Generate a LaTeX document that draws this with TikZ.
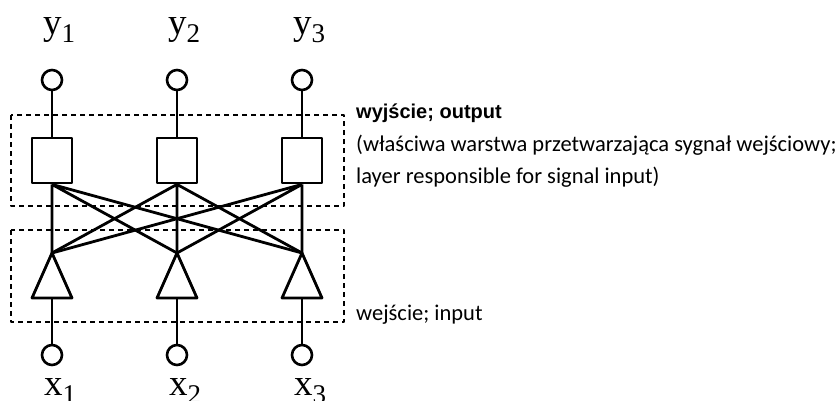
\documentclass[tikz,border=0pt]{standalone}
\usepackage{fontspec}
\setmainfont{Liberation Serif}
\newfontfamily\calibrifont{Carlito}
\newfontfamily\arialfont{Liberation Sans}

% variable with subscript, as in the scanned figure
\newcommand{\var}[2]{\fontsize{37}{37}\selectfont #1\raisebox{-8pt}{\fontsize{27}{27}\selectfont #2}}

\begin{document}
\begin{tikzpicture}[x=1pt, y=-1pt, line join=round,
    wire/.style={line width=2.8pt},
    port/.style={circle, draw, line width=2.6pt, minimum size=20pt, inner sep=0pt},
    unit/.style={rectangle, draw, line width=2.8pt, minimum width=40pt, minimum height=45pt, inner sep=0pt},
    layer/.style={draw, dashed, line width=1.7pt, dash pattern=on 5pt off 4pt},
    var/.style={anchor=base west, inner sep=0pt}]
  \useasboundingbox (0,0) rectangle (840,401);

  % layers
  \draw[layer] (11,115) rectangle (344,206);
  \draw[layer] (11,230) rectangle (344,322);

  % outputs
  \node[var] (ylbl1) at (43,35) {\var{y}{1}};
  \node[var] (ylbl2) at (168,35) {\var{y}{2}};
  \node[var] (ylbl3) at (293,35) {\var{y}{3}};
  \node[port] (yport1) at (52,80) {};
  \node[port] (yport2) at (177,80) {};
  \node[port] (yport3) at (302,80) {};

  % output layer
  \node[unit] (out1) at (52,160.5) {};
  \node[unit] (out2) at (177,160.5) {};
  \node[unit] (out3) at (302,160.5) {};

  % input layer: apex and base of each triangle
  \coordinate (in1) at (52,253);
  \coordinate (in2) at (177,253);
  \coordinate (in3) at (302,253);
  \coordinate (base1) at (52,298);
  \coordinate (base2) at (177,298);
  \coordinate (base3) at (302,298);
  \draw[wire] (in1) -- ++(-20,45) -- ++(40,0) -- cycle;
  \draw[wire] (in2) -- ++(-20,45) -- ++(40,0) -- cycle;
  \draw[wire] (in3) -- ++(-20,45) -- ++(40,0) -- cycle;

  % inputs
  \node[port] (xport1) at (52,355) {};
  \node[port] (xport2) at (177,355) {};
  \node[port] (xport3) at (302,355) {};
  \node[var] (xlbl1) at (44,395) {\var{x}{1}};
  \node[var] (xlbl2) at (169,395) {\var{x}{2}};
  \node[var] (xlbl3) at (294,395) {\var{x}{3}};

  \draw[wire] (yport1) -- (out1);
  \draw[wire] (yport2) -- (out2);
  \draw[wire] (yport3) -- (out3);
  \draw[wire] (out1.south) -- (in1) (out1.south) -- (in2) (out1.south) -- (in3);
  \draw[wire] (out2.south) -- (in1) (out2.south) -- (in2) (out2.south) -- (in3);
  \draw[wire] (out3.south) -- (in1) (out3.south) -- (in2) (out3.south) -- (in3);
  \draw[wire] (base1) -- (xport1);
  \draw[wire] (base2) -- (xport2);
  \draw[wire] (base3) -- (xport3);

  % descriptions
  \node[anchor=west, inner sep=0pt, font=\arialfont\bfseries\fontsize{20}{24}\selectfont]
    (outname) at (356,113) {wyjście; output};
  \node[anchor=north west, inner sep=0pt, align=left, font=\calibrifont\fontsize{22.5}{32}\selectfont]
    (outnote) at (356,135) {(właściwa warstwa przetwarzająca sygnał wejściowy;\\layer responsible for signal input)};
  \node[anchor=west, inner sep=0pt, font=\calibrifont\fontsize{22.5}{24}\selectfont]
    (inname) at (356,315) {wejście; input};
\end{tikzpicture}
\end{document}
